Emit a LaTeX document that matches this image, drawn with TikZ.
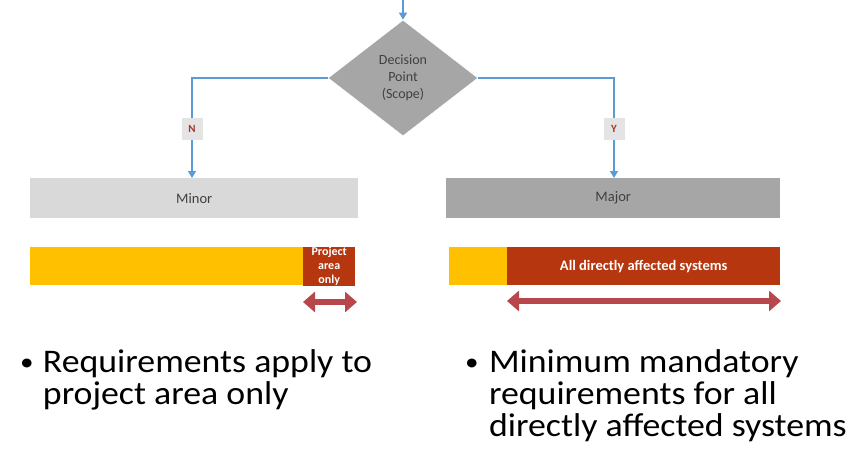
\documentclass[tikz,border=0pt]{standalone}
\usepackage{fontspec}
\setmainfont{Carlito}
\usetikzlibrary{shapes.geometric,arrows.meta}
\definecolor{flowblue}{HTML}{5B9BD5}
\definecolor{lightgrey}{HTML}{D9D9D9}
\definecolor{midgrey}{HTML}{A6A6A6}
\definecolor{labelgrey}{HTML}{E4E4E4}
\definecolor{textgrey}{HTML}{404040}
\definecolor{letterred}{HTML}{A8322F}
\definecolor{baryellow}{HTML}{FFC000}
\definecolor{barred}{HTML}{B5360F}
\definecolor{spanred}{HTML}{B8474C}
\tikzset{
  x=1pt, y=-1pt,
  flow/.style={draw=flowblue, line width=1.3pt},
  flowarrow/.style={flow, -{Triangle[width=8pt,length=7pt]}},
  yn/.style={fill=labelgrey, text=letterred, font=\bfseries\fontsize{11}{12}\selectfont,
    minimum width=21pt, minimum height=22pt, inner sep=0pt},
  scopebox/.style={anchor=north west, inner sep=0pt, text=textgrey,
    font=\fontsize{14.5}{16}\selectfont},
  barpart/.style={anchor=north west, inner sep=0pt, minimum height=38pt,
    text=white, align=center},
  span/.style={draw=spanred, line width=6pt,
    {Triangle[width=20pt,length=12pt]}-{Triangle[width=20pt,length=12pt]}},
  bullet/.style={anchor=base west, inner sep=0pt, text=black,
    font=\fontsize{33}{31}\selectfont}
}
\newcommand{\wide}[1]{\scalebox{1.085}[1]{#1}}
\newcommand{\listmark}[1]{\makebox[#1][l]{\raisebox{2pt}{\fontsize{25}{25}\selectfont •}}}
\begin{document}
\begin{tikzpicture}
\useasboundingbox (0,0) rectangle (860,448);

% decision diamond
\node[diamond, fill=midgrey, draw=white, line width=0.6pt, aspect=1.3,
      minimum width=150pt, minimum height=116pt, inner sep=0pt,
      text=textgrey, align=center, font=\fontsize{14}{17}\selectfont]
  (dp) at (403,78) {Decision\\Point\\(Scope)};
\coordinate (start) at (403,0);
\draw[flowarrow] (start) -- (dp.north);

% outcome boxes
\node[scopebox, fill=lightgrey, minimum width=328pt, minimum height=40pt]
  (minor) at (30,178) {\makebox[328pt]{Minor}};
\node[scopebox, fill=midgrey, minimum width=334pt, minimum height=40pt]
  (major) at (446,178) {\makebox[334pt]{Major}};

% branches
\coordinate (nturn) at (192,78);
\coordinate (yturn) at (614,78);
\node[yn] (nlab) at (192,129) {N};
\node[yn] (ylab) at (614,129) {Y};
\draw[flow] (dp.west) -- (nturn) -- (nlab.north);
\draw[flowarrow] (nlab.south) -- (nlab.south |- minor.north);
\draw[flow] (dp.east) -- (yturn) -- (ylab.north);
\draw[flowarrow] (ylab.south) -- (ylab.south |- major.north);

% requirement bars, minor
\node[barpart, fill=baryellow, minimum width=273pt] (minY) at (30,247) {};
\node[barpart, fill=barred, minimum width=52pt,
      font=\bfseries\fontsize{12}{14}\selectfont] (minR) at (303,247)
  {Project\\area\\only};
% requirement bars, major
\node[barpart, fill=baryellow, minimum width=58pt] (majY) at (449,247) {};
\node[barpart, fill=barred, minimum width=273pt,
      font=\bfseries\fontsize{14.5}{16}\selectfont] (majR) at (507,247)
  {All directly affected systems};

% extent arrows
\coordinate (minA) at (303,302);
\coordinate (minB) at (357,302);
\coordinate (majA) at (507,301);
\coordinate (majB) at (781,301);
\draw[span] (minA) -- (minB);
\draw[span] (majA) -- (majB);

% notes
\node[bullet] (noteminor) at (20,372)
  {\wide{\begin{tabular}[t]{@{}l@{}l@{}}\listmark{21pt}&Requirements apply to\\ &project area only\end{tabular}}};
\node[bullet] (notemajor) at (465,372)
  {\wide{\begin{tabular}[t]{@{}l@{}l@{}}\listmark{22pt}&Minimum mandatory\\ &requirements for all\\ &directly affected systems\end{tabular}}};
\end{tikzpicture}
\end{document}
